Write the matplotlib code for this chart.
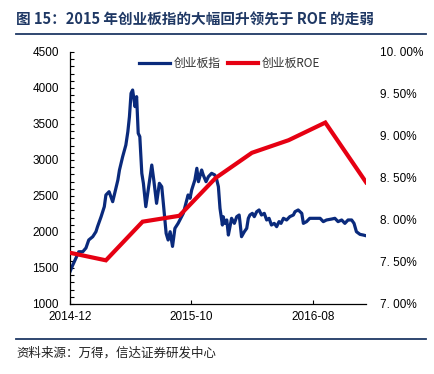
import numpy as np
import pandas as pd
import matplotlib
matplotlib.use("Agg")
from matplotlib import pyplot as plt
import matplotlib.dates as mdates
from matplotlib.lines import Line2D
from matplotlib.ticker import MultipleLocator, FuncFormatter

plt.rcParams['font.family'] = ['Liberation Sans', 'Noto Sans CJK SC', 'DejaVu Sans']

start = pd.Timestamp('2014-12-01')

# 创业板指, day offsets from 2014-12-01
gem_days = [0, 7, 15, 22, 32, 40, 47, 57, 65, 69, 78, 86, 90, 98, 107, 114, 120, 124,
            132, 140, 145, 149, 153, 157, 163, 167, 171, 175, 180, 184, 190, 196, 205,
            210, 217, 224, 230, 234, 241, 246, 251, 257, 263, 271, 284, 296, 301, 305,
            313, 318, 322, 330, 334, 341, 347, 355, 363, 368, 372,
            376, 382, 384, 388, 393, 397, 401, 405, 412, 418, 424, 426, 430, 437, 443,
            447, 451, 457, 462, 468, 474, 480, 487, 493, 499, 505, 512, 518, 524, 529,
            535, 543, 551, 560, 564, 572, 581, 585, 593, 601, 614, 627, 635, 643, 656,
            664, 672, 681, 689, 697, 706, 712, 718, 727, 735, 742]
gem_vals = [1449, 1542, 1639, 1726, 1726, 1778, 1889, 1935, 2004, 2074, 2213, 2352, 2514,
            2560, 2421, 2583, 2722, 2861, 3046, 3208, 3393, 3602, 3926, 3972, 3741, 3880,
            3371, 3324, 2815, 2676, 2352, 2583, 2930, 2722, 2398, 2676, 2629, 2398, 1981,
            1889, 2004, 1800, 2051, 2120, 2259, 2514, 2468, 2583, 2722, 2885, 2699, 2861,
            2792, 2699, 2769, 2815, 2792, 2722, 2629,
            2329, 2097, 2213, 2120, 2167, 1958, 2074, 2190, 2120, 2213, 2236, 2144, 1935,
            2004, 2051, 2190, 2236, 2259, 2213, 2282, 2306, 2236, 2259, 2167, 2190, 2097,
            2120, 2074, 2144, 2120, 2190, 2167, 2213, 2236, 2282, 2306, 2259, 2120, 2144,
            2190, 2190, 2190, 2144, 2167, 2180, 2190, 2144, 2167, 2120, 2167, 2167, 2120,
            2004, 1967, 1958, 1948]

# 创业板ROE (%), quarterly
roe_dates = ['2014-12-01', '2015-03-01', '2015-06-01', '2015-09-01', '2015-12-01',
             '2016-03-01', '2016-06-01', '2016-09-01', '2016-12-12']
roe_vals = [7.61, 7.52, 7.98, 8.05, 8.50, 8.80, 8.95, 9.16, 8.45]

xtick_dates = ['2014-12-01', '2015-10-01', '2016-08-01']

blue = '#0a2a7c'
red = '#e60012'
navy = '#1f3864'

gem_x = [start + pd.Timedelta(days=d) for d in gem_days]
roe_x = pd.to_datetime(roe_dates)

fig = plt.figure(figsize=(4.34, 3.74), dpi=100)
ax = fig.add_axes([70/434, 1-304/374, 296/434, 252/374])
ax2 = ax.twinx()

l1, = ax.plot(gem_x, gem_vals, color=blue, lw=2.3, solid_joinstyle='round')
l2, = ax2.plot(roe_x, roe_vals, color=red, lw=3.0, solid_joinstyle='miter')

ax.set_xlim(start, pd.Timestamp('2016-12-12'))
ax.set_ylim(1000, 4500)
ax2.set_ylim(7.0, 10.0)

ax.yaxis.set_major_locator(MultipleLocator(500))
ax.yaxis.set_minor_locator(MultipleLocator(100))
ax.tick_params(axis='y', which='both', direction='in', length=3, width=0.8,
               labelsize=8.5, pad=8, colors='black')
ax.set_xticks(pd.to_datetime(xtick_dates))
ax.xaxis.set_major_formatter(mdates.DateFormatter('%Y-%m'))
ax.tick_params(axis='x', direction='in', length=3, width=0.8, labelsize=8.5, pad=5)

ax2.yaxis.set_major_locator(MultipleLocator(0.5))
ax2.yaxis.set_major_formatter(FuncFormatter(lambda v, p: '%d. %02d%%' % (int(v), round((v - int(v)) * 100))))
ax2.tick_params(axis='y', length=0, labelsize=8.5, pad=10)

for a in (ax, ax2):
    a.spines['top'].set_visible(False)
    a.spines['right'].set_visible(False)
ax2.spines['left'].set_visible(False)
ax2.spines['bottom'].set_visible(False)
ax.spines['left'].set_linewidth(0.9)
ax.spines['bottom'].set_linewidth(0.9)

leg = ax2.legend([l1, l2], ['创业板指', '创业板ROE'], loc='center', bbox_to_anchor=(0.54, 0.955),
                 ncol=2, frameon=False, handlelength=2.6, handletextpad=0.3,
                 columnspacing=0.6, prop={'family': ['Noto Sans CJK SC'], 'size': 8.5})
for t in leg.get_texts():
    t.set_color('#333333')

fig.text(16/434, 1-20/374, '图 15：2015 年创业板指的大幅回升领先于 ROE 的走弱',
         fontsize=10.5, fontweight='bold', color=navy, va='center', ha='left',
         family=['Noto Sans CJK SC', 'DejaVu Sans'])
fig.add_artist(Line2D([16/434, 426/434], [1-34/374, 1-34/374], transform=fig.transFigure,
                      color=navy, lw=1.3))
fig.add_artist(Line2D([16/434, 426/434], [1-339/374, 1-339/374], transform=fig.transFigure,
                      color=navy, lw=1.3))
fig.text(16/434, 1-353/374, '资料来源：万得，信达证券研发中心', fontsize=9, color='#222222',
         va='center', ha='left', family=['Noto Sans CJK SC', 'DejaVu Sans'])

fig.savefig('out.png', dpi=100)
